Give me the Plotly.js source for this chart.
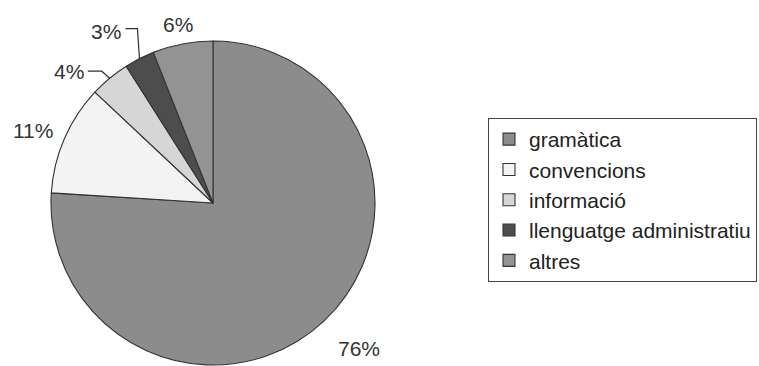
<!DOCTYPE html>
<html>
<head>
<meta charset="utf-8">
<script src="https://cdn.plot.ly/plotly-3.0.1.min.js"></script>
<style>
  html, body { margin: 0; padding: 0; background: #fff; }
  #chart { width: 759px; height: 366px; }
</style>
</head>
<body>
<div id="chart"></div>
<script>
// Categories of queries and their share (%)
const categories = ['gramàtica', 'convencions', 'informació', 'llenguatge administratiu', 'altres'];
const shares = [76, 11, 4, 3, 6];
const sliceColors = ['#8c8c8c', '#f3f3f3', '#d6d6d6', '#4d4d4d', '#939393'];

// Page geometry (pixels)
const W = 759, H = 366;
const CX = 213, CY = 203, R = 162;
const FONT = 'Liberation Sans, Arial, Helvetica, sans-serif';
const FS = 21;
const TEXT = '#333333';

const px = x => x / W;
const py = y => 1 - y / H;

// Mid-angle of each slice, clockwise from 12 o'clock
const total = shares.reduce((a, b) => a + b, 0);
let acc = 0;
const midAngles = shares.map(v => {
  const m = (acc + v / 2) / total * 2 * Math.PI;
  acc += v;
  return m;
});
const pctText = shares.map(v => Math.round(v / total * 100) + '%');

// Direct labels: gap between rim and text. Callouts: elbow leader lines.
const labelGap = { 0: 30, 1: 13, 4: 12 };
const callouts = { 2: { elbow: [-8, -7], run: 14, dy: 0 }, 3: { elbow: [-2, -30], run: 12, dy: 3 } };

const annotations = [];
const shapes = [];

midAngles.forEach((a, i) => {
  const sx = Math.sin(a), sy = -Math.cos(a);
  const ex = CX + R * sx, ey = CY + R * sy;
  if (callouts[i]) {
    const c = callouts[i];
    const bx = ex + c.elbow[0], by = ey + c.elbow[1];
    const tx = bx - c.run;
    shapes.push({
      type: 'path', xref: 'paper', yref: 'paper',
      path: `M${px(ex)},${py(ey)} L${px(bx)},${py(by)} L${px(tx)},${py(by)}`,
      line: { color: '#333', width: 1.2 }
    });
    annotations.push({
      x: px(tx - 2), y: py(by + c.dy), xref: 'paper', yref: 'paper',
      xanchor: 'right', yanchor: 'middle', showarrow: false,
      text: pctText[i], font: { family: FONT, size: FS, color: TEXT }
    });
  } else {
    const d = R + labelGap[i];
    const txt = pctText[i];
    const hw = FS * (0.556 * (txt.length - 1) + 0.889) / 2;
    const hh = FS * 0.36;
    const cx = CX + d * sx + hw * sx;
    const cy = CY + d * sy + hh * sy;
    annotations.push({
      x: px(cx), y: py(cy), xref: 'paper', yref: 'paper',
      xanchor: 'center', yanchor: 'middle', showarrow: false,
      text: txt, font: { family: FONT, size: FS, color: TEXT }
    });
  }
});

const trace = {
  type: 'pie',
  labels: categories,
  values: shares,
  sort: false,
  direction: 'clockwise',
  rotation: 0,
  marker: { colors: sliceColors, line: { color: '#333', width: 1.1 } },
  textinfo: 'none',
  hoverinfo: 'none',
  domain: { x: [px(CX - R), px(CX + R)], y: [py(CY + R), py(CY - R)] }
};

const layout = {
  width: W, height: H,
  margin: { l: 0, r: 0, t: 0, b: 0 },
  paper_bgcolor: '#fff',
  showlegend: true,
  legend: {
    x: px(488), y: py(118), xanchor: 'left', yanchor: 'top',
    bgcolor: '#fff', bordercolor: '#444', borderwidth: 1,
    font: { family: FONT, size: FS, color: '#222' },
    traceorder: 'normal'
  },
  annotations: annotations,
  shapes: shapes
};

Plotly.newPlot('chart', [trace], layout, { staticPlot: true, displayModeBar: false });
</script>
</body>
</html>
